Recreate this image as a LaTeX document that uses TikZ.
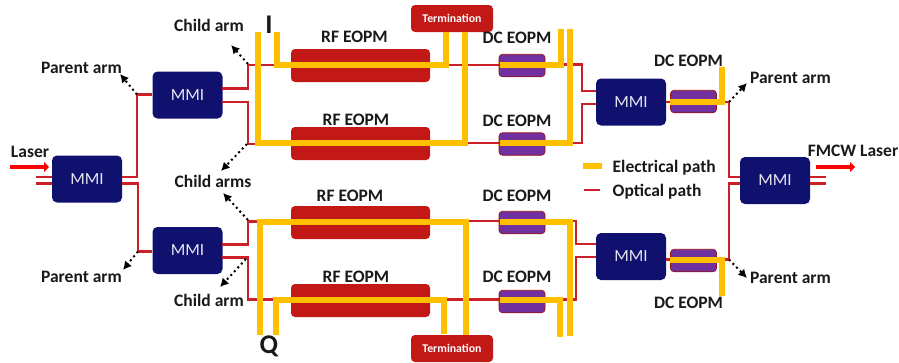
\documentclass[tikz,border=0pt]{standalone}
\usepackage{fontspec}
\setmainfont{Carlito}
\usetikzlibrary{arrows.meta}
\definecolor{navy}{HTML}{10106F}
\definecolor{rfred}{HTML}{C21816}
\definecolor{optred}{HTML}{CB2027}
\definecolor{dcpurple}{HTML}{7030A0}
\definecolor{elec}{HTML}{FFC000}
\tikzset{
 mmibox/.style={fill=navy,rounded corners=5pt,minimum width=70pt,minimum height=47pt,inner sep=0pt,text=white!90!navy,font=\fontsize{17}{18}\selectfont},
 rfbox/.style={fill=rfred,rounded corners=4pt,minimum width=139pt,minimum height=33pt,inner sep=0pt},
 dcbox/.style={fill=dcpurple,draw=rfred!80!black,line width=.7pt,rounded corners=3.5pt,minimum width=46pt,minimum height=22.5pt,inner sep=0pt},
 termbox/.style={fill=rfred,rounded corners=4pt,minimum width=82pt,minimum height=27pt,inner sep=0pt,text=white,font=\bfseries\fontsize{11.8}{13}\selectfont},
 lab/.style={font=\bfseries\fontsize{17.5}{19}\selectfont,inner sep=0pt,text=black!90},
 biglab/.style={font=\bfseries\fontsize{27}{29}\selectfont,inner sep=0pt,text=black!90},
 opt/.style={draw=optred,line width=2.5pt},
 el/.style={draw=elec,line width=6pt},
 dotarrow/.style={draw=black,line width=2pt,dash pattern=on 2pt off 3.2pt,-{Latex[length=8.5pt,width=9pt]}},
 laserarrow/.style={draw=red,line width=4.6pt,-{Triangle[length=5pt,width=10pt]}},
}
\begin{document}
\begin{tikzpicture}[x=1pt,y=-1pt]
\useasboundingbox (0,0) rectangle (899,362);
% boxes
\node[mmibox] (m1) at (87,179) {MMI};
\node[mmibox] (m2) at (187.5,95) {MMI};
\node[mmibox] (m3) at (187.5,250.5) {MMI};
\node[mmibox] (m4) at (631,102) {MMI};
\node[mmibox] (m5) at (631,256.5) {MMI};
\node[mmibox] (m6) at (775,180.5) {MMI};
\node[rfbox] (r1) at (360.5,65.5) {};
\node[rfbox] (r2) at (360.5,143.5) {};
\node[rfbox] (r3) at (360.5,222.5) {};
\node[rfbox] (r4) at (360.5,300.5) {};
\node[dcbox] (d1) at (522,65.5) {};
\node[dcbox] (d2) at (522,144) {};
\node[dcbox] (d3) at (522,222.5) {};
\node[dcbox] (d4) at (522,301.5) {};
\node[dcbox] (d5) at (693.5,101.5) {};
\node[dcbox] (d6) at (693.5,260.5) {};
\node[termbox] (t1) at (452,18.5) {Termination};
\node[termbox] (t2) at (452,348.5) {Termination};
% named free ends
\coordinate (inA) at (36,177);
\coordinate (inB) at (36,183.5);
\coordinate (outA) at (826,177);
\coordinate (outB) at (826,183.5);
\coordinate (jA) at (137,94.5);
\coordinate (jB) at (138,251.5);
\coordinate (jC) at (729,102);
\coordinate (jD) at (729,259.5);
% optical paths
\draw[opt] (inA) -- (m1.west |- inA);
\draw[opt] (inB) -- (m1.west |- inB);
\draw[opt] (m1.east |- inA) -| (jA) -- (m2.west |- jA);
\draw[opt] (m1.east |- inB) -| (jB) -- (m3.west |- jB);
\draw[opt] (222,88.5) -| (248,65) -- (r1.west |- 0,65);
\draw[opt] (222,102) -| (248,144) -- (r2.west |- 0,144);
\draw[opt] (222,244.5) -| (248,221.5) -- (r3.west |- 0,221.5);
\draw[opt] (222,257.5) -| (248,299.5) -- (r4.west |- 0,299.5);
\draw[opt] (r1.east |- 0,65) -- (d1.west |- 0,65);
\draw[opt] (r2.east |- 0,143) -- (d2.west |- 0,143);
\draw[opt] (r3.east |- 0,221) -- (d3.west |- 0,221);
\draw[opt] (r4.east |- 0,299.5) -- (d4.west |- 0,299.5);
\draw[opt] (d1.east |- 0,64.5) -| (582,91) -- (m4.west |- 0,91);
\draw[opt] (d2.east |- 0,143) -| (582,104) -- (m4.west |- 0,104);
\draw[opt] (d3.east |- 0,221) -| (576,244) -- (m5.west |- 0,244);
\draw[opt] (d4.east |- 0,299.5) -| (576,257) -- (m5.west |- 0,257);
\draw[opt] (m4.east |- 0,102) -- (d5.west |- 0,102);
\draw[opt] (m5.east |- 0,259.5) -- (d6.west |- 0,259.5);
\draw[opt] (d5.east |- jC) -- (jC) |- (m6.west |- 0,177);
\draw[opt] (d6.east |- jD) -- (jD) |- (m6.west |- 0,183.5);
\draw[opt] (m6.east |- outA) -- (outA);
\draw[opt] (m6.east |- outB) -- (outB);
% electrical paths
\draw[el] (258,32) -- (258,143) -- (464.5,143) -- (464.5,32);
\draw[el] (277,32) -- (277,65) -- (446,65) -- (446,32);
\draw[el] (500,65) -- (560.5,65) -- (560.5,29);
\draw[el] (500,143) -- (570,143) -- (570,29);
\draw[el] (259.5,335) -- (259.5,221.5) -- (466,221.5) -- (466,335);
\draw[el] (276,335) -- (276,300) -- (444,300) -- (444,334);
\draw[el] (500,222) -- (569.5,222) -- (569.5,336);
\draw[el] (500,300) -- (559.5,300) -- (559.5,337);
\draw[el] (670,101.5) -- (721.5,101.5) -- (721.5,67);
\draw[el] (670,259.5) -- (722,259.5) -- (722,296);
% dotted arrows
\coordinate (a1) at (231,45);
\coordinate (a2) at (221,171);
\coordinate (a3) at (120,74);
\coordinate (a4) at (223,193);
\coordinate (a5) at (123,270);
\coordinate (a6) at (220,287);
\coordinate (a7) at (747,83);
\coordinate (a8) at (747,278);
\coordinate (b1) at (248,64);
\coordinate (b2) at (247,144);
\coordinate (b4) at (248,220);
\coordinate (b6) at (246,259);
\draw[dotarrow] (b1) -- (a1);
\draw[dotarrow] (b2) -- (a2);
\draw[dotarrow] (jA) -- (a3);
\draw[dotarrow] (b4) -- (a4);
\draw[dotarrow] (jB) -- (a5);
\draw[dotarrow] (b6) -- (a6);
\draw[dotarrow] (jC) -- (a7);
\draw[dotarrow] (jD) -- (a8);
% laser arrows
\coordinate (l1) at (10,167);
\coordinate (l2) at (49,167);
\coordinate (l3) at (816,167);
\coordinate (l4) at (855,167);
\draw[laserarrow] (l1) -- (l2);
\draw[laserarrow] (l3) -- (l4);
% labels
\node[lab] (t01) at (209,25) {Child arm};
\node[biglab] (t02) at (269,25) {I};
\node[lab] (t03) at (81.5,67.5) {Parent arm};
\node[lab] (t04) at (30,151.5) {Laser};
\node[lab] (t05) at (213,181) {Child arms};
\node[lab] (t06) at (81.5,276.5) {Parent arm};
\node[lab] (t07) at (209,300) {Child arm};
\node[biglab] (t08) at (269,346) {Q};
\node[lab] (t09) at (354.5,37) {RF EOPM};
\node[lab] (t10) at (356,120) {RF EOPM};
\node[lab] (t11) at (350,195.5) {RF EOPM};
\node[lab] (t12) at (356,277) {RF EOPM};
\node[lab] (t13) at (517,37.5) {DC EOPM};
\node[lab] (t14) at (517,120.5) {DC EOPM};
\node[lab] (t15) at (517,196) {DC EOPM};
\node[lab] (t16) at (517,277) {DC EOPM};
\node[lab] (t17) at (688.5,60.5) {DC EOPM};
\node[lab] (t18) at (688.5,303) {DC EOPM};
\node[lab] (t19) at (790.5,78) {Parent arm};
\node[lab] (t20) at (790.5,277.5) {Parent arm};
\node[lab] (t21) at (853,151) {FMCW Laser};
\node[lab,anchor=west] (t22) at (612.5,167.5) {Electrical path};
\node[lab,anchor=west] (t23) at (612.5,191.5) {Optical path};
% legend
\coordinate (k1) at (583,166);
\coordinate (k2) at (602,166);
\coordinate (k3) at (584,190);
\coordinate (k4) at (600,190);
\draw[el] (k1) -- (k2);
\draw[opt] (k3) -- (k4);
\end{tikzpicture}
\end{document}
